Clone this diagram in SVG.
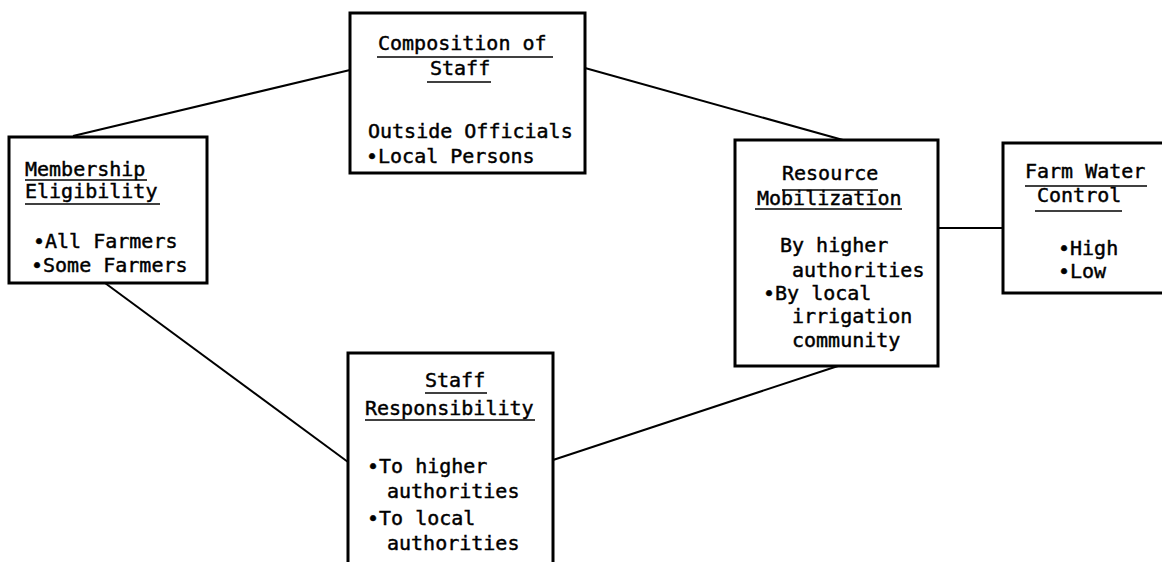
<svg xmlns="http://www.w3.org/2000/svg" width="1162" height="562" viewBox="0 0 1162 562">
<style>
.box{fill:#fff;stroke:#000;stroke-width:3}
.conn{stroke:#000;stroke-width:2;fill:none}
.ul{stroke:#000;stroke-width:1.6}
text{font-family:"DejaVu Sans Mono","Liberation Mono",monospace;font-size:20px;fill:#000;stroke:#000;stroke-width:0.45}
</style>
<rect width="1162" height="562" fill="#fff"/>
<g id="connectors">
<line class="conn" x1="73" y1="136" x2="350" y2="70"/>
<line class="conn" x1="585" y1="68" x2="843" y2="140"/>
<line class="conn" x1="105" y1="283" x2="348" y2="462"/>
<line class="conn" x1="553" y1="460" x2="838" y2="366"/>
<line class="conn" x1="938" y1="228" x2="1003" y2="228"/>
</g>
<g id="composition">
<rect class="box" x="350" y="13" width="235" height="160"/>
<text x="378" y="50">Composition of</text>
<line class="ul" x1="377" y1="57" x2="553" y2="57"/>
<text x="430" y="75">Staff</text>
<line class="ul" x1="427" y1="82" x2="491" y2="82"/>
<text x="368" y="138">Outside Officials</text>
<text x="366" y="163">•Local Persons</text>
</g>
<g id="membership">
<rect class="box" x="9" y="137" width="198" height="146"/>
<text x="25" y="176">Membership</text>
<line class="ul" x1="25" y1="180" x2="147" y2="180"/>
<text x="25" y="198">Eligibility</text>
<line class="ul" x1="25" y1="204" x2="160" y2="204"/>
<text x="33" y="248">•All Farmers</text>
<text x="31" y="272">•Some Farmers</text>
</g>
<g id="resource">
<rect class="box" x="735" y="140" width="203" height="226"/>
<text x="782" y="180">Resource</text>
<line class="ul" x1="782" y1="190" x2="878" y2="190"/>
<text x="757" y="205">Mobilization</text>
<line class="ul" x1="755" y1="209" x2="902" y2="209"/>
<text x="780" y="252">By higher</text>
<text x="792" y="277">authorities</text>
<text x="763" y="300">•By local</text>
<text x="792" y="323">irrigation</text>
<text x="792" y="347">community</text>
</g>
<g id="farm">
<rect class="box" x="1003" y="143" width="170" height="150"/>
<text x="1025" y="178">Farm Water</text>
<line class="ul" x1="1025" y1="186" x2="1147" y2="186"/>
<text x="1037" y="202">Control</text>
<line class="ul" x1="1035" y1="211" x2="1122" y2="211"/>
<text x="1058" y="255">•High</text>
<text x="1058" y="278">•Low</text>
</g>
<g id="staff">
<rect class="box" x="348" y="353" width="205" height="220"/>
<text x="425" y="387">Staff</text>
<line class="ul" x1="425" y1="393" x2="487" y2="393"/>
<text x="365" y="415">Responsibility</text>
<line class="ul" x1="365" y1="420" x2="535" y2="420"/>
<text x="367" y="473">•To higher</text>
<text x="387" y="498">authorities</text>
<text x="367" y="525">•To local</text>
<text x="387" y="550">authorities</text>
</g>
</svg>
